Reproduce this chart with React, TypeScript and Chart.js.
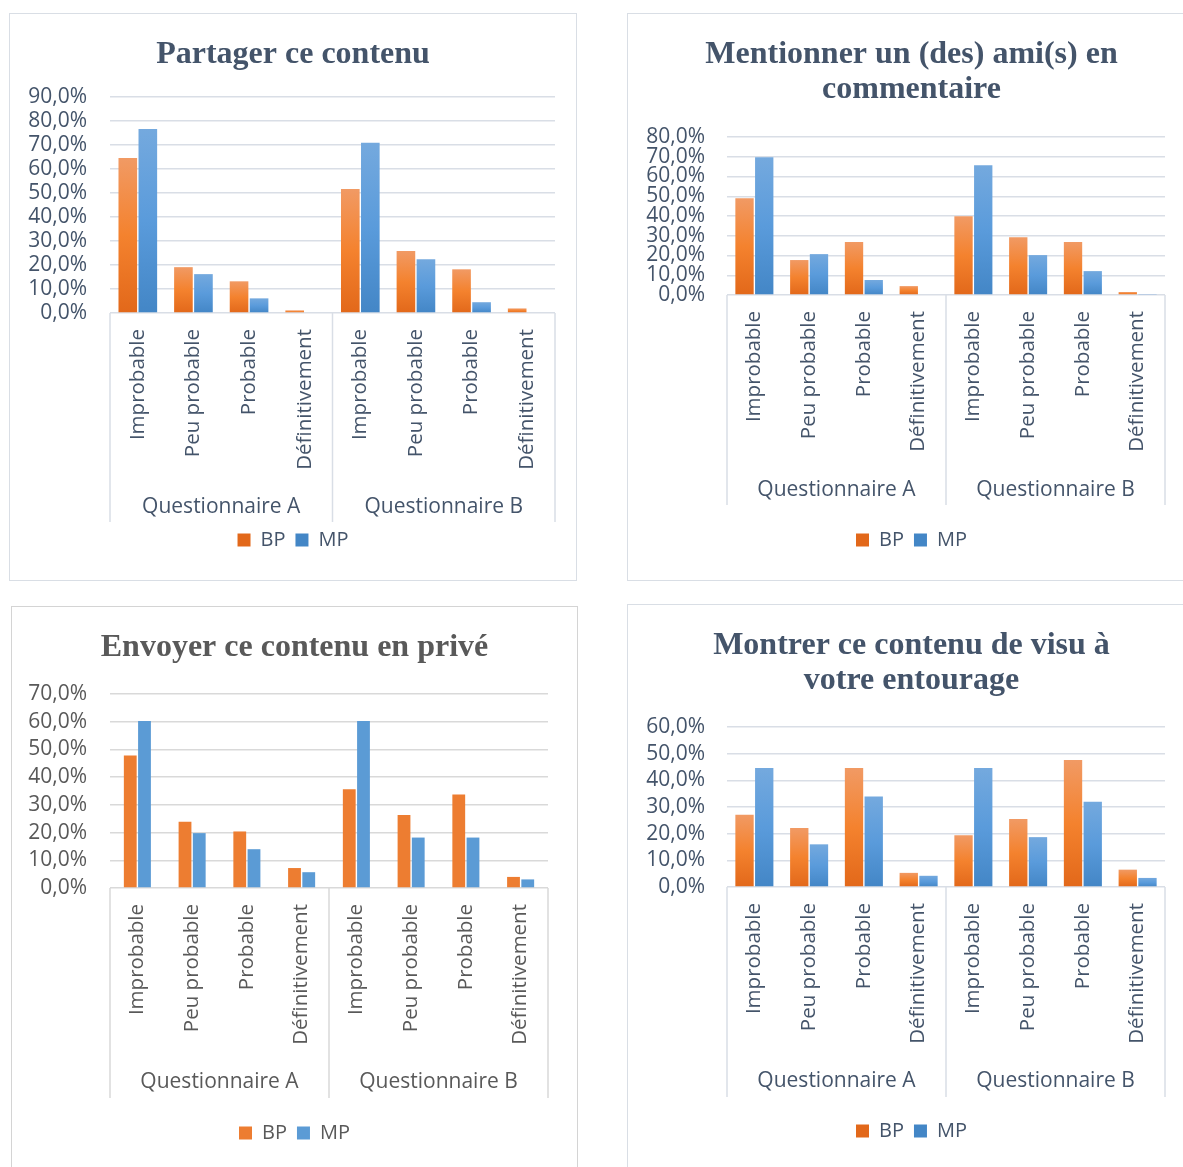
import React, { useEffect, useRef } from 'react';
import { Chart, registerables } from 'chart.js';

Chart.register(...registerables);

// ---------- data ----------
const categories = [
  'Improbable', 'Peu probable', 'Probable', 'Définitivement',
  'Improbable', 'Peu probable', 'Probable', 'Définitivement',
];
const groups = ['Questionnaire A', 'Questionnaire B'];
const seriesNames = ['BP', 'MP'];

const partagerBP = [64.6, 19.1, 13.2, 1.1, 51.7, 25.8, 18.2, 1.9];
const partagerMP = [76.7, 16.2, 6.1, 0.0, 70.9, 22.4, 4.5, 0.3];

const mentionnerBP = [49.0, 17.7, 26.8, 4.5, 39.9, 29.3, 26.8, 1.5];
const mentionnerMP = [69.7, 20.7, 7.6, 0.0, 65.7, 20.2, 12.1, 0.5];

const envoyerBP = [47.8, 23.9, 20.4, 7.2, 35.6, 26.3, 33.7, 4.0];
const envoyerMP = [60.3, 19.8, 14.0, 5.7, 60.3, 18.2, 18.2, 3.1];

const montrerBP = [27.1, 22.1, 44.6, 5.3, 19.4, 25.5, 47.6, 6.5];
const montrerMP = [44.6, 16.0, 33.9, 4.2, 44.6, 18.7, 32.0, 3.4];

const titlePartager = ['Partager ce contenu'];
const titleMentionner = ['Mentionner un (des) ami(s) en', 'commentaire'];
const titleEnvoyer = ['Envoyer ce contenu en privé'];
const titleMontrer = ['Montrer ce contenu de visu à', 'votre entourage'];

const yMaxPartager = 90;
const yMaxMentionner = 80;
const yMaxEnvoyer = 70;
const yMaxMontrer = 60;

// ---------- styling ----------
const SANS = '"Open Sans", "Noto Sans", sans-serif';
const SERIF = '"Liberation Serif", "Times New Roman", serif';
const FS_Y = 21;
const FS_X = 20.5;
const FS_G = 21;
const FS_L = 20;

type Spec = {
  panel: { x: number; y: number; w: number; h: number };
  plot: { l: number; r: number; t: number; b: number };
  yLabelRight: number;
  titleY: number;
  sepBottom: number;
  groupY: number;
  legendY: number;
  title: string[];
  bp: number[];
  mp: number[];
  yMax: number;
  gradient: boolean;
  text: string;
  grid: string;
  border: string;
  catPct: number;
  barPct: number;
};

const specs: Spec[] = [
  {
    panel: { x: 9, y: 13, w: 568, h: 568 },
    plot: { l: 110, r: 555, t: 97, b: 313 },
    yLabelRight: 87, titleY: 55, sepBottom: 522, groupY: 507, legendY: 540,
    title: titlePartager, bp: partagerBP, mp: partagerMP, yMax: yMaxPartager,
    gradient: true, text: '#44546A', grid: '#D9DEE6', border: '#D9DEE5',
    catPct: 0.72, barPct: 0.93,
  },
  {
    panel: { x: 627, y: 13, w: 569, h: 568 },
    plot: { l: 727, r: 1165, t: 137, b: 295 },
    yLabelRight: 705, titleY: 54.5, sepBottom: 505, groupY: 490, legendY: 540,
    title: titleMentionner, bp: mentionnerBP, mp: mentionnerMP, yMax: yMaxMentionner,
    gradient: true, text: '#44546A', grid: '#D9DEE6', border: '#D9DEE5',
    catPct: 0.72, barPct: 0.93,
  },
  {
    panel: { x: 11, y: 606, w: 567, h: 580 },
    plot: { l: 110, r: 548, t: 694, b: 888 },
    yLabelRight: 87, titleY: 648, sepBottom: 1098, groupY: 1082, legendY: 1133,
    title: titleEnvoyer, bp: envoyerBP, mp: envoyerMP, yMax: yMaxEnvoyer,
    gradient: false, text: '#595959', grid: '#D9D9D9', border: '#D4D4D4',
    catPct: 0.52, barPct: 0.9,
  },
  {
    panel: { x: 627, y: 604, w: 569, h: 580 },
    plot: { l: 727, r: 1165, t: 727, b: 887 },
    yLabelRight: 705, titleY: 645.5, sepBottom: 1097, groupY: 1081, legendY: 1131,
    title: titleMontrer, bp: montrerBP, mp: montrerMP, yMax: yMaxMontrer,
    gradient: true, text: '#44546A', grid: '#D9DEE6', border: '#D9DEE5',
    catPct: 0.72, barPct: 0.93,
  },
];

const ORANGE = { solid: '#ED7D31', stops: ['#F19A64', '#F4822E', '#E2681A'] };
const BLUE = { solid: '#5B9BD5', stops: ['#74A9DE', '#5A9BDB', '#4386C6'] };

function fill(pal: { solid: string; stops: string[] }, gradient: boolean) {
  if (!gradient) return pal.solid;
  return (ctx: any) => {
    const chart = ctx.chart;
    if (ctx.type !== 'data' || !chart.chartArea) return pal.stops[1];
    const ys = chart.scales.y;
    const top = ys.getPixelForValue(ctx.raw);
    const bottom = ys.getPixelForValue(0);
    if (bottom - top < 1) return pal.stops[1];
    const g = chart.ctx.createLinearGradient(0, top, 0, bottom);
    g.addColorStop(0, pal.stops[0]);
    g.addColorStop(0.5, pal.stops[1]);
    g.addColorStop(1, pal.stops[2]);
    return g;
  };
}

function PanelChart({ spec }: { spec: Spec }) {
  const ref = useRef<HTMLCanvasElement>(null);
  const cw = spec.panel.w - 2;
  const ch = spec.panel.h - 2;

  useEffect(() => {
    const canvas = ref.current!;
    const ox = spec.panel.x + 1;
    const oy = spec.panel.y + 1;
    const lineH = 32 * 1.1;
    const tTop = spec.titleY - oy - lineH / 2;
    const tBottom = spec.plot.t - oy - tTop - spec.title.length * lineH;
    const legendTop = spec.legendY - oy - (10 + FS_L / 2);
    const axisH = legendTop - (spec.plot.b - oy);
    const bottomPad = Math.max(0, ch - (legendTop + FS_L + 20));
    const yW = spec.plot.l - ox;
    const rightW = cw - (spec.plot.r - ox);

    const groupAxis = {
      id: 'groupAxis',
      afterDraw(chart: any) {
        const { ctx, chartArea } = chart;
        const xs = chart.scales.x;
        const mid = (xs.getPixelForValue(3) + xs.getPixelForValue(4)) / 2;
        ctx.save();
        ctx.strokeStyle = spec.grid;
        ctx.lineWidth = 1.5;
        [chartArea.left, mid, chartArea.right].forEach((px: number) => {
          ctx.beginPath();
          ctx.moveTo(px, chartArea.bottom);
          ctx.lineTo(px, spec.sepBottom - oy);
          ctx.stroke();
        });
        ctx.fillStyle = spec.text;
        ctx.font = `${FS_G}px ${SANS}`;
        ctx.textAlign = 'center';
        ctx.textBaseline = 'middle';
        groups.forEach((g, i) => {
          const a = xs.getPixelForValue(i * 4);
          const b = xs.getPixelForValue(i * 4 + 3);
          ctx.fillText(g, (a + b) / 2, spec.groupY - oy);
        });
        ctx.restore();
      },
    };

    const chart = new Chart(canvas, {
      type: 'bar',
      data: {
        labels: categories,
        datasets: [
          {
            label: seriesNames[0],
            data: spec.bp,
            backgroundColor: fill(ORANGE, spec.gradient) as any,
            categoryPercentage: spec.catPct,
            barPercentage: spec.barPct,
          },
          {
            label: seriesNames[1],
            data: spec.mp,
            backgroundColor: fill(BLUE, spec.gradient) as any,
            categoryPercentage: spec.catPct,
            barPercentage: spec.barPct,
          },
        ],
      },
      options: {
        responsive: false,
        maintainAspectRatio: false,
        animation: false,
        layout: { padding: { left: 0, right: 0, top: 0, bottom: bottomPad } },
        plugins: {
          tooltip: { enabled: false },
          title: {
            display: true,
            text: spec.title,
            color: spec.text,
            font: { family: SERIF, size: 32, weight: 'bold', lineHeight: 1.1 },
            padding: { top: tTop, bottom: tBottom },
          },
          legend: {
            display: true,
            position: 'bottom',
            labels: {
              boxWidth: 13,
              boxHeight: 13,
              padding: 10,
              color: spec.text,
              font: { family: SANS, size: FS_L },
            },
          },
        },
        scales: {
          x: {
            grid: { display: false, drawTicks: false },
            border: { display: false },
            ticks: {
              autoSkip: false,
              minRotation: 90,
              maxRotation: 90,
              padding: 16,
              color: spec.text,
              font: { family: SANS, size: FS_X },
            },
            afterFit: (s: any) => { s.height = axisH; },
          },
          y: {
            min: 0,
            max: spec.yMax,
            grid: { color: spec.grid, lineWidth: 1.5, drawTicks: false },
            border: { display: false },
            ticks: {
              autoSkip: false,
              stepSize: 10,
              padding: spec.plot.l - spec.yLabelRight,
              color: spec.text,
              font: { family: SANS, size: FS_Y, lineHeight: 1 },
              callback: (v: any) => Number(v).toFixed(1).replace('.', ',') + '%',
            },
            afterFit: (s: any) => { s.width = yW; },
          },
          r: {
            type: 'linear',
            position: 'right',
            display: true,
            grid: { display: false, drawTicks: false },
            border: { display: false },
            ticks: { display: false },
            afterFit: (s: any) => { s.width = rightW; },
          },
        },
      } as any,
      plugins: [groupAxis],
    });
    return () => chart.destroy();
  }, []);

  return (
    <div
      style={{
        position: 'absolute',
        left: spec.panel.x,
        top: spec.panel.y,
        width: spec.panel.w,
        height: spec.panel.h,
        boxSizing: 'border-box',
        border: `1px solid ${spec.border}`,
        background: '#fff',
      }}
    >
      <canvas
        ref={ref}
        width={cw}
        height={ch}
        style={{ position: 'absolute', left: 0, top: 0, width: cw, height: ch }}
      />
    </div>
  );
}

export default function App() {
  return (
    <div
      style={{
        position: 'fixed',
        left: 0,
        top: 0,
        width: 1183,
        height: 1167,
        overflow: 'hidden',
        background: '#fff',
      }}
    >
      {specs.map((s, i) => (
        <PanelChart key={i} spec={s} />
      ))}
    </div>
  );
}
